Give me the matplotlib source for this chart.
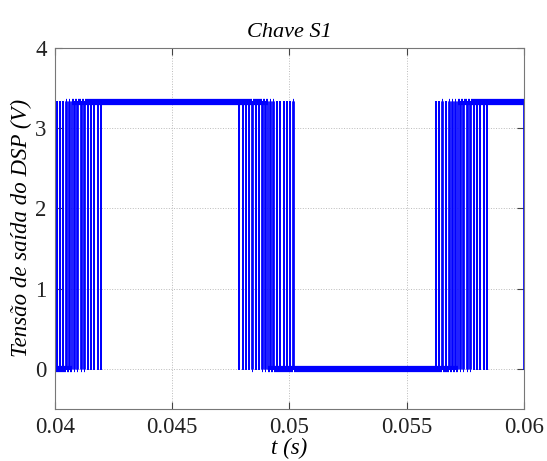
import numpy as np
import matplotlib
matplotlib.use("Agg")
import matplotlib.pyplot as plt

# Valores (tempos em ms)
T_PWM = 0.14          # periodo aproximado da portadora
V_HIGH = 3.33
V_LOW = 0.0
T_END = 60.0

# trecho 1: subida da razao ciclica
start_1 = 40.0
duty_1 = [0.05, 0.08, 0.12, 0.18, 0.28, 0.40, 0.55, 0.68, 0.80, 0.88, 0.92, 0.94, 0.96, 0.97]
# trecho 2: descida
start_2 = 47.86
duty_2 = [0.97, 0.96, 0.95, 0.93, 0.90, 0.86, 0.80, 0.65, 0.45, 0.30, 0.18, 0.12, 0.08,
          0.06, 0.05, 0.04, 0.03]
# trecho 3: subida
start_3 = 56.18
duty_3 = [0.04, 0.06, 0.10, 0.15, 0.22, 0.30, 0.40, 0.50, 0.60, 0.70, 0.78, 0.85, 0.90,
          0.94, 0.96, 0.97]


def pulses(start, duties):
    out = []
    for k, d in enumerate(duties):
        s = start + k * T_PWM
        out.append((s + (1 - d) * T_PWM / 2, s + (1 + d) * T_PWM / 2))
    return out


end_1 = start_1 + len(duty_1) * T_PWM
end_3 = start_3 + len(duty_3) * T_PWM

high = pulses(start_1, duty_1) + [(end_1, start_2)] + pulses(start_2, duty_2) \
    + pulses(start_3, duty_3) + [(end_3, T_END)]
high.sort()

# monta o sinal em degraus
t = [start_1]
v = [V_LOW]
for a, b in high:
    t += [a, a, b, b]
    v += [V_LOW, V_HIGH, V_HIGH, V_LOW]
t = np.array(t) / 1000.0
v = np.array(v)

# segmentos horizontais (patamares)
seg_y, seg_a, seg_b = [], [], []
for i in range(len(t) - 1):
    if v[i] == v[i + 1] and t[i + 1] > t[i]:
        seg_y.append(v[i]); seg_a.append(t[i]); seg_b.append(t[i + 1])

plt.rcParams['font.family'] = ['Liberation Serif', 'DejaVu Serif']

fig = plt.figure(figsize=(5.47, 4.61), dpi=100)
ax = fig.add_axes([0.1005, 0.1128, 0.8575, 0.7835])

ax.plot(t, v, color='blue', lw=1.25)
ax.hlines(seg_y, seg_a, seg_b, color='blue', lw=4.5, capstyle='butt')

ax.set_xlim(0.04, 0.06)
ax.set_ylim(-0.5, 4)
ax.set_xticks([0.04, 0.045, 0.05, 0.055, 0.06])
ax.set_xticklabels(['0.04', '0.045', '0.05', '0.055', '0.06'])
ax.set_yticks([0, 1, 2, 3, 4])
ax.tick_params(direction='in', top=True, right=True, length=5, labelsize=16.5,
               colors='#444444', labelcolor='#222222', pad=6)
ax.grid(True, ls=':', color='#bbbbbb', lw=0.7)
for s in ax.spines.values():
    s.set_color('#777777')
    s.set_linewidth(0.8)

ax.set_title('Chave S1', fontsize=16, style='italic', pad=8)
ax.set_xlabel('t (s)', fontsize=16.5, style='italic', labelpad=0)
ax.set_ylabel('Tensão de saída do DSP (V)', fontsize=16.5, style='italic', labelpad=2)

fig.savefig('out.png', dpi=100)
